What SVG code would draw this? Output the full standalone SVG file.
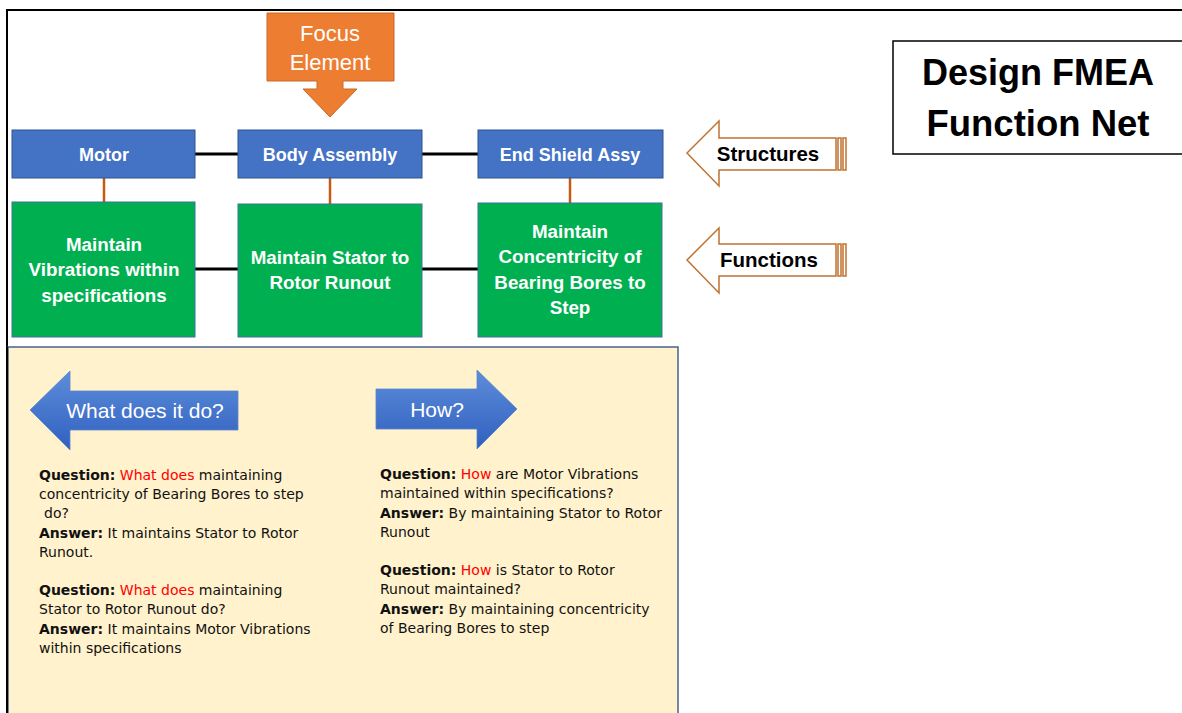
<svg xmlns="http://www.w3.org/2000/svg" width="1182" height="713" viewBox="0 0 1182 713">
  <defs>
    <style>
      .struct { fill: #4472C4; stroke: #2F528F; stroke-width: 1; }
      .func { fill: #00B050; stroke: #41719C; stroke-width: 1; }
      .boxtxt { font-family: "Liberation Sans", Arial, sans-serif; font-weight: bold; font-size: 18px; fill: #FFFFFF; text-anchor: middle; }
      .fntxt { font-size: 18.8px; }
      .link { stroke: #000000; stroke-width: 3; fill: none; }
      .tie { stroke: #C55A11; stroke-width: 2.5; fill: none; }
      .label-arrow { fill: #FFFFFF; stroke: #C0722F; stroke-width: 1.5; }
      .label-txt { font-family: "Liberation Sans", Arial, sans-serif; font-weight: bold; font-size: 20.5px; fill: #000000; text-anchor: middle; }
      .nav-txt { font-family: "Liberation Sans", Arial, sans-serif; font-size: 21px; fill: #FFFFFF; text-anchor: middle; }
      .qa { font-family: "DejaVu Sans", Verdana, sans-serif; font-size: 14px; fill: #111111; }
      .b { font-weight: bold; }
      .red { fill: #FF0000; }
    </style>
    <linearGradient id="navGrad" x1="0" y1="0" x2="0" y2="1">
      <stop offset="0" stop-color="#5E8DDA"/>
      <stop offset="1" stop-color="#2F60BF"/>
    </linearGradient>
  </defs>

  <rect x="0" y="0" width="1182" height="713" fill="#FFFFFF"/>

  <!-- outer frame -->
  <path d="M7,716 V10 H1185" fill="none" stroke="#000000" stroke-width="2"/>

  <!-- title -->
  <g id="title">
    <rect x="893" y="41" width="300" height="113" fill="#FFFFFF" stroke="#000000" stroke-width="1.5"/>
    <text x="1038" y="85" font-family="Liberation Sans, Arial, sans-serif" font-weight="bold" font-size="36" text-anchor="middle" fill="#000000">Design FMEA</text>
    <text x="1038" y="136" font-family="Liberation Sans, Arial, sans-serif" font-weight="bold" font-size="36.5" text-anchor="middle" fill="#000000">Function Net</text>
  </g>

  <!-- focus element callout -->
  <g id="focus-element">
    <path d="M267,13 H394 V81 H343 V89 H357 L330,117 L303,89 H317 V81 H267 Z" fill="#ED7D31" stroke="#C96A28" stroke-width="1"/>
    <text x="330" y="41" font-family="Liberation Sans, Arial, sans-serif" font-size="22" text-anchor="middle" fill="#FFFFFF">Focus</text>
    <text x="330" y="70" font-family="Liberation Sans, Arial, sans-serif" font-size="22" text-anchor="middle" fill="#FFFFFF">Element</text>
  </g>

  <!-- connectors -->
  <g id="connectors">
    <line class="link" x1="195" y1="154" x2="238" y2="154"/>
    <line class="link" x1="422" y1="154" x2="478" y2="154"/>
    <line class="link" x1="195" y1="269" x2="238" y2="269"/>
    <line class="link" x1="422" y1="269" x2="478" y2="269"/>
    <line class="tie" x1="104" y1="178" x2="104" y2="202"/>
    <line class="tie" x1="330" y1="178" x2="330" y2="204"/>
    <line class="tie" x1="570" y1="178" x2="570" y2="203"/>
  </g>

  <!-- structure elements -->
  <g id="motor">
    <rect class="struct" x="12" y="130" width="183" height="48"/>
    <text class="boxtxt" x="104" y="161">Motor</text>
  </g>
  <g id="body-assembly">
    <rect class="struct" x="238" y="130" width="184" height="48"/>
    <text class="boxtxt" x="330" y="161">Body Assembly</text>
  </g>
  <g id="end-shield-assy">
    <rect class="struct" x="478" y="130" width="185" height="48"/>
    <text class="boxtxt" x="570" y="161">End Shield Assy</text>
  </g>

  <!-- functions -->
  <g id="fn-vibrations">
    <rect class="func" x="12" y="202" width="183" height="135"/>
    <text class="boxtxt fntxt" x="104" y="251">Maintain</text>
    <text class="boxtxt fntxt" x="104" y="276">Vibrations within</text>
    <text class="boxtxt fntxt" x="104" y="302">specifications</text>
  </g>
  <g id="fn-runout">
    <rect class="func" x="238" y="204" width="184" height="133"/>
    <text class="boxtxt fntxt" x="330" y="264">Maintain Stator to</text>
    <text class="boxtxt fntxt" x="330" y="289">Rotor Runout</text>
  </g>
  <g id="fn-concentricity">
    <rect class="func" x="478" y="203" width="184" height="134"/>
    <text class="boxtxt fntxt" x="570" y="238">Maintain</text>
    <text class="boxtxt fntxt" x="570" y="263">Concentricity of</text>
    <text class="boxtxt fntxt" x="570" y="289">Bearing Bores to</text>
    <text class="boxtxt fntxt" x="570" y="314">Step</text>
  </g>

  <!-- level labels -->
  <g id="label-structures">
    <path class="label-arrow" d="M687,153 L719,121 V138 H836 V170 H719 V186 Z"/>
    <rect class="label-arrow" x="838" y="138" width="3" height="32"/>
    <rect class="label-arrow" x="843" y="138" width="3" height="32"/>
    <text class="label-txt" x="768" y="161">Structures</text>
  </g>
  <g id="label-functions">
    <path class="label-arrow" d="M687,260 L719,228 V244 H836 V276 H719 V293 Z"/>
    <rect class="label-arrow" x="838" y="244" width="3" height="32"/>
    <rect class="label-arrow" x="843" y="244" width="3" height="32"/>
    <text class="label-txt" x="769" y="267">Functions</text>
  </g>

  <!-- question panel -->
  <g id="qa-panel">
    <rect x="8" y="347" width="670" height="380" fill="#FFF2CC" stroke="#4A6090" stroke-width="1.5"/>
    <path d="M7,716 V347" stroke="#000000" stroke-width="2"/>
  </g>

  <g id="nav-what">
    <path d="M30,410 L70,371 V391 H238 V430 H70 V450 Z" fill="url(#navGrad)" stroke="#5B86D0" stroke-width="0.8"/>
    <text class="nav-txt" x="145" y="418">What does it do?</text>
  </g>
  <g id="nav-how">
    <path d="M376,389 H477 V370 L517,409 L477,449 V429 H376 Z" fill="url(#navGrad)" stroke="#5B86D0" stroke-width="0.8"/>
    <text class="nav-txt" x="437" y="417">How?</text>
  </g>

  <g id="qa-what" class="qa">
    <text x="39" y="480"><tspan class="b">Question:</tspan> <tspan class="red">What does</tspan> maintaining</text>
    <text x="39" y="499">concentricity of Bearing Bores to step</text>
    <text x="44" y="518">do?</text>
    <text x="39" y="538"><tspan class="b">Answer:</tspan> It maintains Stator to Rotor</text>
    <text x="39" y="557">Runout.</text>
    <text x="39" y="595"><tspan class="b">Question:</tspan> <tspan class="red">What does</tspan> maintaining</text>
    <text x="39" y="614">Stator to Rotor Runout do?</text>
    <text x="39" y="634"><tspan class="b">Answer:</tspan> It maintains Motor Vibrations</text>
    <text x="39" y="653">within specifications</text>
  </g>

  <g id="qa-how" class="qa">
    <text x="380" y="479"><tspan class="b">Question:</tspan> <tspan class="red">How</tspan> are Motor Vibrations</text>
    <text x="380" y="498">maintained within specifications?</text>
    <text x="380" y="518"><tspan class="b">Answer:</tspan> By maintaining Stator to Rotor</text>
    <text x="380" y="537">Runout</text>
    <text x="380" y="575"><tspan class="b">Question:</tspan> <tspan class="red">How</tspan> is Stator to Rotor</text>
    <text x="380" y="594">Runout maintained?</text>
    <text x="380" y="614"><tspan class="b">Answer:</tspan> By maintaining concentricity</text>
    <text x="380" y="633">of Bearing Bores to step</text>
  </g>
</svg>
